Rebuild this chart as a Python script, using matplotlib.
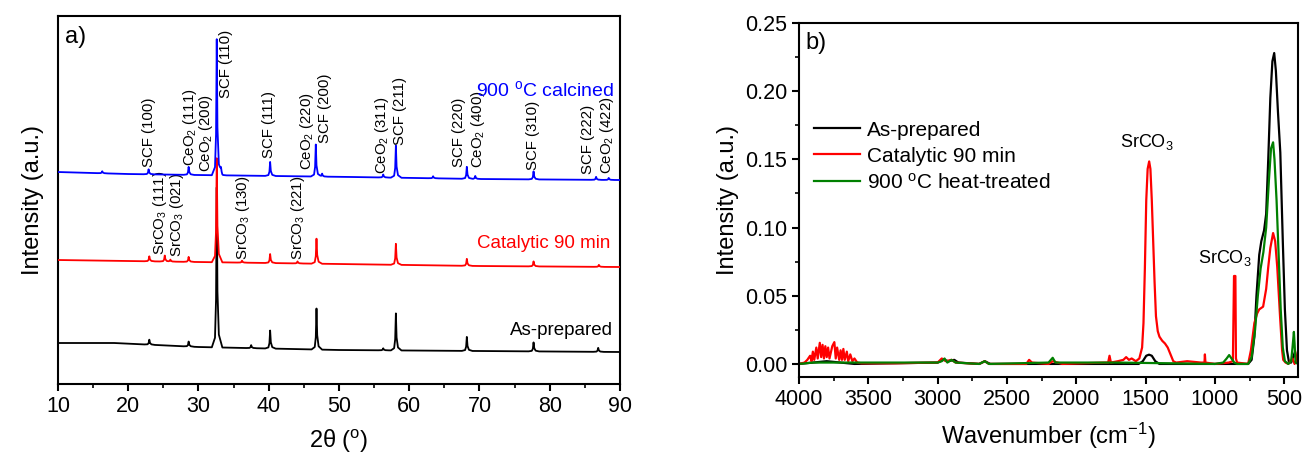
import matplotlib
matplotlib.use('Agg')
import matplotlib.pyplot as plt
import numpy as np

plt.rcParams['font.family'] = ['Liberation Sans', 'DejaVu Sans']
plt.rcParams['mathtext.fontset'] = 'custom'
plt.rcParams['mathtext.rm'] = 'Liberation Sans'
plt.rcParams['mathtext.it'] = 'Liberation Sans:italic'

# ---- XRD data (a) ----
# baselines (2theta, intensity) and peaks (2theta, height above baseline)
blue_base_x = [10, 20, 30, 52, 70, 90]
blue_base_y = [212, 210, 209, 207, 205, 204]
blue_peak_x = [16.3, 22.9, 28.6, 32.6, 33.2, 40.2, 46.7, 47.6, 56.3, 58.1, 63.4, 68.2, 69.4, 77.7, 86.6, 88.4]
blue_peak_h = [2, 5, 8, 136, 4, 14, 32, 3, 3, 32, 2, 12, 3, 8, 3, 2]

red_base_x = [10, 30, 50, 70, 90]
red_base_y = [124, 122, 120, 118, 117]
red_peak_x = [23.0, 25.2, 26.0, 28.6, 32.6, 36.2, 40.2, 44.1, 46.8, 58.1, 68.2, 77.7, 87.0]
red_peak_h = [5, 6, 2, 5, 104, 2, 9, 2, 25, 21, 7, 5, 2]

black_base_x = [10, 18, 30, 50, 90]
black_base_y = [41, 41, 37, 34, 32]
black_peak_x = [23.0, 28.6, 32.6, 37.5, 40.2, 46.8, 56.3, 58.1, 68.2, 77.7, 86.9]
black_peak_h = [5, 5, 160, 3, 18, 41, 2, 37, 14, 9, 4]

scf_labels = ['SCF (100)', 'CeO$_2$ (111)', 'CeO$_2$ (200)', 'SCF (110)', 'SCF (111)',
              'CeO$_2$ (220)', 'SCF (200)', 'CeO$_2$ (311)', 'SCF (211)', 'SCF (220)',
              'CeO$_2$ (400)', 'SCF (310)', 'SCF (222)', 'CeO$_2$ (422)']
scf_label_x = [22.9, 28.8, 31.0, 33.9, 40.0, 45.4, 48.0, 56.1, 58.7, 67.1, 69.8, 77.6, 85.4, 88.1]
scf_label_y = [217, 218, 212, 286, 226, 214, 241, 210, 239, 217, 216, 214, 210, 210]

srco_labels = ['SrCO$_3$ (111)', 'SrCO$_3$ (021)', 'SrCO$_3$ (130)', 'SrCO$_3$ (221)']
srco_label_x = [24.5, 26.9, 36.3, 44.2]
srco_label_y = [129, 127, 124, 124]

# ---- FTIR data (b) ----
asprep_wn = [4000, 3900, 3800, 3700, 3600, 3000, 2960, 2920, 2880, 2850, 2700, 2660, 2620,
             1550, 1520, 1495, 1475, 1455, 1430, 1400, 760, 735, 715, 700, 680, 665, 645,
             630, 615, 600, 585, 572, 560, 545, 528, 510, 495, 480, 465, 450, 435, 422, 410, 400]
asprep_val = [0, 0.001, 0.002, 0.001, 0, 0.001, 0.003, 0.002, 0.003, 0.001, 0, 0.002, 0,
              0, 0.002, 0.006, 0.0068, 0.006, 0.002, 0, 0, 0.003, 0.02, 0.05, 0.08, 0.09, 0.098,
              0.11, 0.15, 0.195, 0.222, 0.228, 0.215, 0.185, 0.155, 0.09, 0.04, 0.01, 0.001, 0.001,
              0.005, 0.009, 0.002, 0.003]

cat_wn = [4000, 3960, 3940, 3920, 3910, 3900, 3890, 3875, 3865, 3850, 3840, 3830, 3820, 3810,
          3800, 3790, 3780, 3760, 3745, 3735, 3725, 3710, 3700, 3690, 3680, 3670, 3655, 3645,
          3630, 3615, 3600, 3580, 3550, 3300, 3000, 2970, 2940, 2900, 2870, 2700, 2660, 2630,
          2360, 2340, 2320, 2200, 2170, 2100, 1800, 1770, 1760, 1750, 1700, 1660, 1640, 1620,
          1600, 1570, 1545, 1525, 1515, 1505, 1495, 1485, 1474, 1465, 1455, 1445, 1435, 1425,
          1412, 1400, 1380, 1360, 1340, 1320, 1300, 1280, 1200, 1100, 1075, 1072, 1068, 1000,
          900, 870, 862, 852, 848, 840, 760, 740, 715, 695, 680, 652, 630, 615, 600, 580,
          565, 550, 530, 515, 507, 490, 470, 440, 425, 410, 400]
cat_val = [0, 0.001, 0.003, 0.006, 0.002, 0.009, 0.003, 0.012, 0.004, 0.0155, 0.005, 0.014,
           0.004, 0.013, 0.005, 0.012, 0.004, 0.013, 0.016, 0.004, 0.012, 0.003, 0.010, 0.003,
           0.011, 0.003, 0.009, 0.002, 0.007, 0.002, 0.004, 0.001, 0.0005, 0.0005, 0.001, 0.004,
           0.002, 0.003, 0.001, 0, 0.002, 0, 0, 0.003, 0.001, 0, 0.002, 0, 0.001, 0.001, 0.006,
           0.001, 0.002, 0.003, 0.005, 0.003, 0.004, 0.002, 0.004, 0.012, 0.03, 0.07, 0.12,
           0.143, 0.1485, 0.143, 0.12, 0.09, 0.06, 0.035, 0.024, 0.02, 0.017, 0.015, 0.012,
           0.007, 0.002, 0.001, 0.002, 0.001, 0.001, 0.007, 0.001, 0, 0.001, 0.002, 0.0645,
           0.0645, 0.004, 0.001, 0, 0.01, 0.03, 0.037, 0.04, 0.042, 0.055, 0.071, 0.085, 0.096,
           0.09, 0.071, 0.035, 0.01, 0.003, 0.001, 0, 0.004, 0, 0.003, 0.01]

heat_wn = [4000, 3900, 3000, 2970, 2950, 2930, 2900, 2870, 2700, 2660, 2630, 2200, 2170, 2150,
           1700, 1000, 940, 915, 897, 880, 860, 840, 760, 735, 710, 690, 670, 650, 630, 610,
           595, 580, 570, 555, 540, 525, 510, 495, 470, 450, 440, 430, 425, 418, 400]
heat_val = [0, 0.001, 0.001, 0.002, 0.004, 0.001, 0.003, 0.001, 0, 0.002, 0, 0.001, 0.0045,
            0.001, 0.001, 0, 0.001, 0.004, 0.0065, 0.004, 0.001, 0, 0, 0.005, 0.025, 0.05,
            0.07, 0.082, 0.1, 0.135, 0.158, 0.1625, 0.15, 0.12, 0.08, 0.04, 0.012, 0.002, 0,
            0.002, 0.012, 0.0235, 0.015, 0.001, 0]

# narrow peak shape used to draw each reflection
peak_off = [-0.7, -0.25, -0.1, 0, 0.1, 0.3, 0.8]
peak_frac = [0, 0.06, 0.3, 1, 0.35, 0.08, 0]


def pattern(base_x, base_y, px, ph):
    xs = list(base_x)
    for p in px:
        xs += [p + o for o in peak_off]
    xs = np.array(sorted(set(xs)))
    ys = np.interp(xs, base_x, base_y)
    for p, h in zip(px, ph):
        ys = ys + h * np.interp(xs, [p + o for o in peak_off], peak_frac, left=0, right=0)
    return xs, ys


fig = plt.figure(figsize=(13.03, 4.59), dpi=100)
ax1 = fig.add_axes([0.0445, 0.1634, 0.4313, 0.8017])
ax2 = fig.add_axes([0.6132, 0.1786, 0.383, 0.7712])

x, y = pattern(black_base_x, black_base_y, black_peak_x, black_peak_h)
ax1.plot(x, y, color='black', lw=1.3, zorder=2)
x, y = pattern(red_base_x, red_base_y, red_peak_x, red_peak_h)
ax1.plot(x, y, color='red', lw=1.3, zorder=3)
x, y = pattern(blue_base_x, blue_base_y, blue_peak_x, blue_peak_h)
ax1.plot(x, y, color='blue', lw=1.3, zorder=4)

for t, lx, ly in zip(scf_labels, scf_label_x, scf_label_y):
    ax1.text(lx, ly, t, rotation=90, ha='center', va='bottom', fontsize=10.8)
for t, lx, ly in zip(srco_labels, srco_label_x, srco_label_y):
    ax1.text(lx, ly, t, rotation=90, ha='center', va='bottom', fontsize=10.8)

ax1.text(89.1, 294, '900 $^\\mathrm{o}$C calcined', color='blue', ha='right', va='center', fontsize=14)
ax1.text(88.6, 141, 'Catalytic 90 min', color='red', ha='right', va='center', fontsize=13.5)
ax1.text(89.0, 54, 'As-prepared', color='black', ha='right', va='center', fontsize=13.5)
ax1.text(0.0125, 0.943, 'a)', transform=ax1.transAxes, ha='left', va='center', fontsize=17)

ax1.set_xlim(10, 90)
ax1.set_ylim(0, 368)
ax1.set_xticks(range(10, 91, 10))
ax1.set_xticks(range(15, 90, 10), minor=True)
ax1.set_yticks([])
ax1.set_xlabel('2θ ($^\\mathrm{o}$)', fontsize=17, labelpad=8)
ax1.set_ylabel('Intensity (a.u.)', fontsize=17, labelpad=10)

ax2.plot(asprep_wn, asprep_val, color='black', lw=1.6, label='As-prepared')
ax2.plot(cat_wn, cat_val, color='red', lw=1.6, label='Catalytic 90 min')
ax2.plot(heat_wn, heat_val, color='green', lw=1.6, label='900 $^\\mathrm{o}$C heat-treated')

ax2.text(1684, 0.1625, 'SrCO$_3$', ha='left', va='center', fontsize=13)
ax2.text(1121, 0.078, 'SrCO$_3$', ha='left', va='center', fontsize=13)
ax2.text(0.012, 0.943, 'b)', transform=ax2.transAxes, ha='left', va='center', fontsize=17)

ax2.set_xlim(4000, 400)
ax2.set_ylim(-0.0096, 0.25)
ax2.set_xticks(range(4000, 499, -500))
ax2.set_xticks(range(3750, 499, -500), minor=True)
ax2.set_yticks(np.arange(0, 0.26, 0.05))
ax2.set_yticks(np.arange(0.025, 0.25, 0.05), minor=True)
ax2.yaxis.set_major_formatter(matplotlib.ticker.FormatStrFormatter('%.2f'))
ax2.set_xlabel('Wavenumber (cm$^{-1}$)', fontsize=17, labelpad=8)
ax2.set_ylabel('Intensity (a.u.)', fontsize=17, labelpad=4)
ax2.legend(loc='upper left', bbox_to_anchor=(0.03, 0.724), frameon=False, fontsize=15,
           handlelength=2.2, handletextpad=0.35, labelspacing=0.33, borderpad=0, borderaxespad=0)

for ax in (ax1, ax2):
    for s in ax.spines.values():
        s.set_linewidth(1.5)
    ax.tick_params(which='major', direction='out', length=5, width=1.5, labelsize=15.5)
    ax.tick_params(which='minor', direction='out', length=3, width=1.2)

fig.savefig('out.png', dpi=100)
